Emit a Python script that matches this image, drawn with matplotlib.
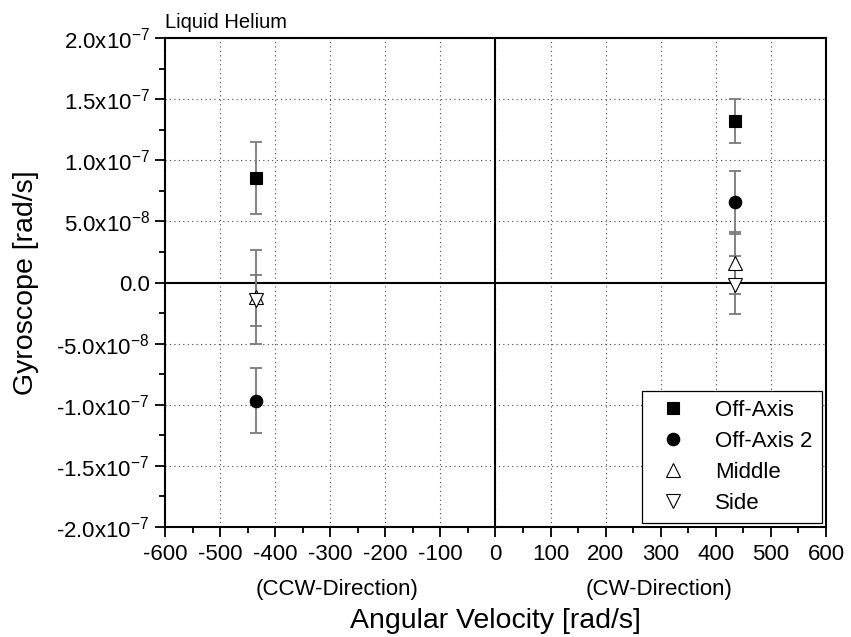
import numpy as np
import matplotlib.pyplot as plt
from matplotlib.ticker import MultipleLocator, FixedLocator

plt.rcParams['font.family'] = ['Liberation Sans', 'DejaVu Sans']
plt.rcParams['mathtext.fontset'] = 'custom'
plt.rcParams['mathtext.rm'] = 'Liberation Sans'
plt.rcParams['mathtext.it'] = 'Liberation Sans'
plt.rcParams['mathtext.bf'] = 'Liberation Sans'
plt.rcParams['axes.unicode_minus'] = False

# rotation rates (CCW negative, CW positive)
omega = [-435, 435]

# gyroscope readings [rad/s] and their errors for each position
off_axis = [0.852e-7, 1.321e-7]
off_axis_err = [0.295e-7, 0.18e-7]
off_axis2 = [-0.967e-7, 0.655e-7]
off_axis2_err = [0.265e-7, 0.255e-7]
middle = [-0.12e-7, 0.16e-7]
middle_err = [0.386e-7, 0.255e-7]
side = [-0.146e-7, -0.02e-7]
side_err = [0.207e-7, 0.24e-7]

series = [
    ('Off-Axis', off_axis, off_axis_err, 's', 'black', 8),
    ('Off-Axis 2', off_axis2, off_axis2_err, 'o', 'black', 9),
    ('Middle', middle, middle_err, '^', 'white', 10),
    ('Side', side, side_err, 'v', 'white', 10),
]

ytick_vals = [-2e-7, -1.5e-7, -1e-7, -5e-8, 0, 5e-8, 1e-7, 1.5e-7, 2e-7]
ytick_labels = [r'-2.0x10$^{-7}$', r'-1.5x10$^{-7}$', r'-1.0x10$^{-7}$',
                r'-5.0x10$^{-8}$', '0.0', r'5.0x10$^{-8}$', r'1.0x10$^{-7}$',
                r'1.5x10$^{-7}$', r'2.0x10$^{-7}$']

fig = plt.figure(figsize=(8.51, 6.37), dpi=100)
ax = fig.add_axes([0.1939, 0.1727, 0.7767, 0.7676])

ax.axhline(0, color='black', lw=1.5, zorder=2)
ax.axvline(0, color='black', lw=1.5, zorder=2)

for name, y, yerr, mk, fc, ms in series:
    ax.errorbar(omega, y, yerr=yerr, fmt='none', ecolor='#7a7a7a',
                elinewidth=1.3, capsize=4.5, capthick=1.3, zorder=3)
    ax.plot(omega, y, linestyle='none', marker=mk, markersize=ms,
            markerfacecolor=fc, markeredgecolor='black', markeredgewidth=0.8,
            label=name, zorder=4)

ax.set_xlim(-600, 600)
ax.set_ylim(-2e-7, 2e-7)
ax.xaxis.set_major_locator(MultipleLocator(100))
ax.xaxis.set_minor_locator(MultipleLocator(50))
ax.yaxis.set_major_locator(FixedLocator(ytick_vals))
ax.yaxis.set_minor_locator(MultipleLocator(2.5e-8))
ax.set_yticklabels(ytick_labels)
ax.tick_params(axis='both', which='major', direction='out', length=7,
               width=1.3, labelsize=16, top=False, right=False)
ax.tick_params(axis='both', which='minor', direction='out', length=4,
               width=1.3, top=False, right=False)
ax.tick_params(axis='x', pad=5)
ax.tick_params(axis='y', pad=4)

ax.grid(True, which='major', linestyle=(0, (1, 3)), color='#444444', lw=0.8)
ax.set_axisbelow(True)
for sp in ax.spines.values():
    sp.set_linewidth(1.5)

ax.set_xlabel('Angular Velocity [rad/s]', fontsize=20.5)
ax.xaxis.set_label_coords(0.5, -0.165)
ax.set_ylabel('Gyroscope [rad/s]', fontsize=20.5)
ax.yaxis.set_label_coords(-0.19, 0.5)

xt = ax.get_xaxis_transform()
ax.text(-288, -0.127, '(CCW-Direction)', transform=xt, ha='center',
        va='center', fontsize=16)
ax.text(297, -0.127, '(CW-Direction)', transform=xt, ha='center',
        va='center', fontsize=16)
ax.text(-600, 2.05e-7, 'Liquid Helium', ha='left', va='bottom', fontsize=14.5)

leg = ax.legend(loc='lower right', fontsize=16, frameon=True, fancybox=False,
                edgecolor='black', framealpha=1, borderpad=0.4,
                handletextpad=0.9, labelspacing=0.45, borderaxespad=0.2)
leg.get_frame().set_linewidth(0.9)

fig.savefig('out.png', dpi=100)
